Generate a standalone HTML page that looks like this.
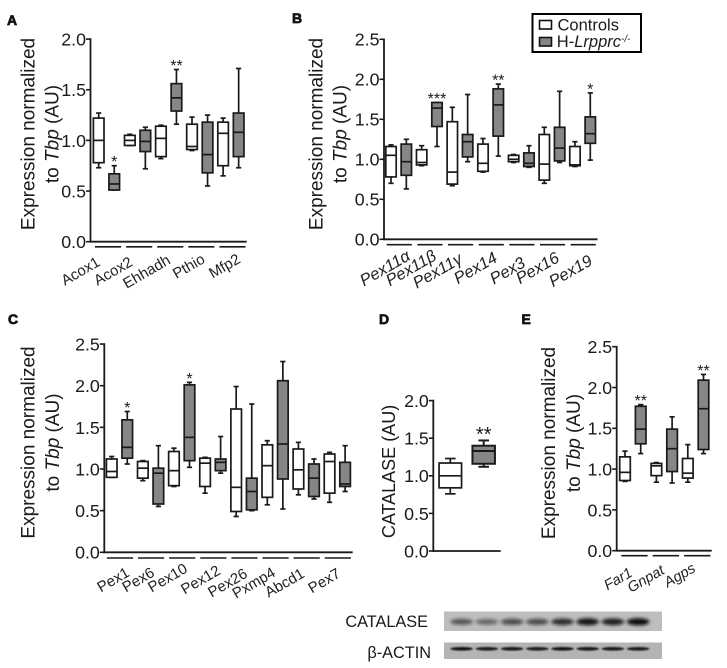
<!DOCTYPE html>
<html lang="en">
<head>
<meta charset="utf-8">
<title>Peroxisomal gene expression boxplots</title>
<style>
html,body{margin:0;padding:0;background:#fff;width:727px;height:668px;overflow:hidden}
svg{display:block;font-family:"Liberation Sans",sans-serif}
</style>
</head>
<body>
<svg id="fig" width="727" height="668" viewBox="0 0 727 668" xmlns="http://www.w3.org/2000/svg">
<defs>
<filter id="blur1" x="-30%" y="-100%" width="160%" height="300%"><feGaussianBlur stdDeviation="1.5"/></filter>
<filter id="blur2" x="-30%" y="-100%" width="160%" height="300%"><feGaussianBlur stdDeviation="0.7"/></filter>
</defs>
<g font-weight="bold" font-size="14" fill="#111" stroke="#111" stroke-width="0.7">
<text x="7" y="25">A</text>
<text x="292" y="23">B</text>
<text x="8" y="324">C</text>
<text x="379" y="324">D</text>
<text x="521.5" y="324">E</text>
</g>
<g fill="#1a1a1a" font-size="19" text-anchor="middle">
<g>
<text transform="translate(34.5 134) rotate(-90)">Expression normalized</text>
<text transform="translate(58.5 134) rotate(-90)">to <tspan font-style="italic">Tbp</tspan> (AU)</text>
</g>
<g>
<text transform="translate(322.5 134) rotate(-90)">Expression normalized</text>
<text transform="translate(346.5 134) rotate(-90)">to <tspan font-style="italic">Tbp</tspan> (AU)</text>
</g>
<g>
<text transform="translate(34.5 442.5) rotate(-90)">Expression normalized</text>
<text transform="translate(59 442.5) rotate(-90)">to <tspan font-style="italic">Tbp</tspan> (AU)</text>
</g>
<text font-size="18" transform="translate(395 471.5) rotate(-90)">CATALASE (AU)</text>
<g>
<text transform="translate(555 443) rotate(-90)">Expression normalized</text>
<text transform="translate(580 443) rotate(-90)">to <tspan font-style="italic">Tbp</tspan> (AU)</text>
</g>
</g>
<g>
<rect x="532.5" y="14" width="108.5" height="38" fill="#fff" stroke="#000" stroke-width="2"/>
<rect x="539.5" y="20.5" width="12" height="8.5" fill="#fff" stroke="#111" stroke-width="1.6"/>
<rect x="539.5" y="37.5" width="12" height="8.5" fill="#868686" stroke="#111" stroke-width="1.6"/>
<text x="557.5" y="30.5" font-size="16.5" fill="#1a1a1a">Controls</text>
<text x="553.5" y="47" font-size="16.5" fill="#1a1a1a">&#8201;H-<tspan font-style="italic">Lrpprc</tspan><tspan font-size="10" dy="-5" font-style="italic">-/-</tspan></text>
</g>
<g>
<text x="428" y="627" font-size="16.3" fill="#1a1a1a" text-anchor="end">CATALASE</text>
<text x="431" y="658" font-size="16.3" fill="#1a1a1a" text-anchor="end">&#946;-ACTIN</text>
<rect x="444" y="611.5" width="218" height="19.5" fill="#bdbdbd"/>
<rect x="444" y="642.5" width="218" height="16.5" fill="#b4b4b4"/>
<g id="bands"></g>
</g>
<g id="charts"></g>
</svg>
<script>
// Five-number summaries: [whisker low, Q1, median, Q3, whisker high]
const aGenes = ['Acox1','Acox2','Ehhadh','Pthio','Mfp2'];
const aControls = [[0.73,0.78,1.0,1.22,1.27],[0.95,0.95,1.0,1.05,1.06],[0.82,0.84,1.02,1.14,1.15],[0.9,0.91,0.94,1.16,1.23],[0.65,0.75,1.07,1.18,1.22]];
const aKnockout = [[0.51,0.51,0.57,0.67,0.75],[0.72,0.89,0.99,1.1,1.13],[1.16,1.29,1.42,1.56,1.7],[0.55,0.68,0.86,1.18,1.25],[0.73,0.84,1.08,1.27,1.71]];
const aStars = ['*','','**','',''];
const aTicks = ['0.0','0.5','1.0','1.5','2.0'];

const bGenes = ['Pex11\u03B1','Pex11\u03B2','Pex11\u03B3','Pex14','Pex3','Pex16','Pex19'];
const bControls = [[0.7,0.78,1.05,1.16,1.18],[0.92,0.93,0.96,1.12,1.17],[0.67,0.69,0.84,1.47,1.65],[0.84,0.85,0.95,1.19,1.26],[0.96,0.97,1.0,1.05,1.06],[0.7,0.74,0.94,1.31,1.4],[0.91,0.92,0.93,1.16,1.22]];
const bKnockout = [[0.63,0.8,0.97,1.19,1.25],[1.16,1.41,1.64,1.71,1.71],[0.97,1.03,1.22,1.31,1.81],[1.04,1.29,1.68,1.88,1.94],[0.9,0.91,0.95,1.08,1.17],[0.96,0.98,1.14,1.4,1.85],[0.99,1.2,1.32,1.53,1.83]];
const bStars = ['','***','','**','','','*'];
const bTicks = ['0.0','0.5','1.0','1.5','2.0','2.5'];

const cGenes = ['Pex1','Pex6','Pex10','Pex12','Pex26','Pxmp4','Abcd1','Pex7'];
const cControls = [[0.9,0.9,0.97,1.12,1.15],[0.86,0.89,1.01,1.09,1.1],[0.79,0.8,0.98,1.21,1.25],[0.71,0.79,1.07,1.13,1.14],[0.43,0.49,0.78,1.72,1.99],[0.57,0.66,1.04,1.29,1.34],[0.69,0.76,0.99,1.24,1.32],[0.6,0.71,1.09,1.18,1.2]];
const cKnockout = [[1.06,1.13,1.26,1.59,1.69],[0.55,0.58,0.95,1.01,1.28],[1.02,1.1,1.38,2.01,2.04],[0.95,0.98,1.08,1.12,1.39],[0.5,0.51,0.73,0.89,1.78],[0.52,0.88,1.3,2.06,2.29],[0.64,0.67,0.89,1.06,1.12],[0.73,0.79,0.82,1.08,1.28]];
const cStars = ['*','','*','','','','',''];
const cTicks = ['0.0','0.5','1.0','1.5','2.0','2.5'];

const dControls = [[0.76,0.84,1.0,1.17,1.23]];
const dKnockout = [[1.12,1.16,1.33,1.4,1.47]];
const dStars = ['**'];
const dTicks = ['0.0','0.5','1.0','1.5','2.0'];

const eGenes = ['Far1','Gnpat','Agps'];
const eControls = [[0.85,0.86,0.96,1.15,1.22],[0.84,0.92,1.04,1.07,1.08],[0.84,0.89,0.95,1.13,1.3]];
const eKnockout = [[1.19,1.31,1.49,1.77,1.79],[0.83,0.97,1.25,1.49,1.64],[1.19,1.24,1.74,2.09,2.16]];
const eStars = ['**','','**'];
const eTicks = ['0.0','0.5','1.0','1.5','2.0','2.5'];

const catalaseBands = [0.6,0.5,0.65,0.65,0.82,0.95,0.9,1.0];
const actinBands = [0.95,0.9,0.92,0.9,0.95,0.92,0.92,0.9];

const NS = 'http://www.w3.org/2000/svg';
const INK = '#1a1a1a';
const GREY = '#868686';

function add(parent, tag, name, attrs, text) {
  const el = document.createElementNS(NS, tag);
  
  
  for (const k in attrs) el.setAttribute(k, attrs[k]);
  if (text !== undefined) el.textContent = text;
  parent.appendChild(el);
  return el;
}

function drawBox(g, name, cx, w, stats, fill, sw, y, capW) {
  const box = add(g, 'g', name, {});
  const [lo, q1, med, q3, hi] = stats;
  const st = {stroke: INK, 'stroke-width': sw, fill: 'none'};
  add(box, 'line', name + '-whisker-low', Object.assign({x1: cx, x2: cx, y1: y(q1), y2: y(lo)}, st));
  add(box, 'line', name + '-whisker-high', Object.assign({x1: cx, x2: cx, y1: y(q3), y2: y(hi)}, st));
  add(box, 'line', name + '-cap-low', Object.assign({x1: cx - capW, x2: cx + capW, y1: y(lo), y2: y(lo)}, st));
  add(box, 'line', name + '-cap-high', Object.assign({x1: cx - capW, x2: cx + capW, y1: y(hi), y2: y(hi)}, st));
  add(box, 'rect', name + '-body', {x: cx - w / 2, y: y(q3), width: w, height: y(q1) - y(q3), fill: fill, stroke: INK, 'stroke-width': sw});
  add(box, 'line', name + '-median', Object.assign({x1: cx - w / 2, x2: cx + w / 2, y1: y(med), y2: y(med)}, st));
}

function drawPanel(p) {
  const root = document.getElementById('charts');
  const g = add(root, 'g', 'chart-' + p.id, {});
  const y = v => p.y0 - v * p.unit;
  const x = i => p.x0 + i * p.step;
  const sw = p.sw || 1.7;
  const maxV = parseFloat(p.ticks[p.ticks.length - 1]);

  p.ticks.forEach(t => {
    const v = parseFloat(t);
    add(g, 'line', p.id + '-y-tick-' + t, {x1: p.axisX - 4.5, x2: p.axisX, y1: y(v), y2: y(v), stroke: INK, 'stroke-width': 1.6});
    add(g, 'text', p.id + '-y-tick-label-' + t, {x: p.axisX - 4.5, y: y(v) + 6.4, 'font-size': 17.8, 'text-anchor': 'end', fill: INK}, t);
  });
  add(g, 'line', p.id + '-y-axis', {x1: p.axisX, x2: p.axisX, y1: y(maxV) - 0.8, y2: y(0) + 0.9, stroke: INK, 'stroke-width': 1.8});
  add(g, 'line', p.id + '-x-axis', {x1: p.axisX, x2: p.xEnd, y1: y(0), y2: y(0), stroke: INK, 'stroke-width': 1.8});

  p.controls.forEach((c, i) => {
    const cx0 = x(2 * i), cx1 = x(2 * i + 1);
    const label = p.genes ? p.genes[i] : 'sample';
    drawBox(g, p.id + '-box-' + label + '-controls', cx0, p.boxW, c, '#fff', sw, y, p.cap);
    drawBox(g, p.id + '-box-' + label + '-knockout', cx1, p.boxW, p.knockout[i], GREY, sw + (p.koExtra || 0), y, p.cap);
    if (p.stars[i]) {
      add(g, 'text', p.id + '-significance-' + label, {x: cx1, y: y(p.knockout[i][4]) + (p.starDy || 1.5), 'font-size': p.starSize || 16, 'text-anchor': 'middle', fill: INK}, p.stars[i]);
    }
    if (p.genes) {
      add(g, 'line', p.id + '-group-bar-' + label, {x1: cx0 - p.barL, x2: cx1 + p.barR, y1: p.barY, y2: p.barY, stroke: INK, 'stroke-width': 1.6});
      const ax = (cx0 + cx1) / 2 + p.labelShift[i][0];
      const ay = p.labelY + p.labelShift[i][1];
      add(g, 'text', p.id + '-x-label-' + label, {transform: 'translate(' + ax + ' ' + ay + ') rotate(-30)', 'font-size': p.labelSize, 'font-style': p.labelItalic ? 'italic' : 'normal', 'text-anchor': 'end', fill: '#222'}, label);
    }
  });
}

drawPanel({id: 'a', genes: aGenes, controls: aControls, knockout: aKnockout, stars: aStars, ticks: aTicks,
  axisX: 90.5, xEnd: 246.7, y0: 241.7, unit: 101.3, x0: 98.7, step: 15.55, boxW: 10.6, cap: 2.6,
  barL: 3.7, barR: 6.9, barY: 246.8, labelY: 265, labelSize: 15,
  labelShift: [[-5.5,0],[-4,0],[2.8,-2],[6.2,-3],[10.6,-3]]});
drawPanel({id: 'b', genes: bGenes, controls: bControls, knockout: bKnockout, stars: bStars, ticks: bTicks,
  axisX: 384, xEnd: 597.5, y0: 239.3, unit: 80, x0: 391, step: 15.33, boxW: 10.4, cap: 2.6,
  barL: 4.3, barR: 5.5, barY: 244.7, labelY: 260, labelSize: 16.5, labelItalic: true,
  labelShift: [[12.8,-1],[8.2,-1],[3.5,2],[7.8,1],[5.2,6],[8.5,1],[10.9,4]]});
drawPanel({id: 'c', genes: cGenes, controls: cControls, knockout: cKnockout, stars: cStars, ticks: cTicks,
  axisX: 104.3, xEnd: 352.7, y0: 552.3, unit: 83.3, x0: 111.7, step: 15.56, boxW: 10.6, cap: 2.6,
  barL: 4.8, barR: 5.8, barY: 558, labelY: 575, labelSize: 15,
  labelShift: [[11,0.5],[4.9,0.5],[6.8,-3.5],[8.6,-1.5],[4.5,1.5],[1.4,0.5],[-0.7,1.5],[4.2,1.5]]});
drawPanel({id: 'd', controls: dControls, knockout: dKnockout, stars: dStars, ticks: dTicks,
  axisX: 433.3, xEnd: 500.7, y0: 551, unit: 75.2, x0: 450.3, step: 33.4, boxW: 22.5, cap: 5.3, koExtra: 0.3,
  starSize: 20, starDy: 0.5});
drawPanel({id: 'e', genes: eGenes, controls: eControls, knockout: eKnockout, stars: eStars, ticks: eTicks,
  axisX: 616.7, xEnd: 711.7, y0: 550.7, unit: 81.6, x0: 625, step: 15.7, boxW: 10.6, cap: 2.6,
  barL: 3.7, barR: 6.9, barY: 555.7, labelY: 573, labelSize: 14.6, labelItalic: true,
  labelShift: [[0.6,2.5],[1.2,0],[0.8,-2]]});

const bandLayer = document.getElementById('bands');
function drawBands(values, kind, cy, maxH, filterId) {
  values.forEach((v, i) => {
    const cx = 461.7 + i * 25.2;
    add(bandLayer, 'ellipse', 'blot-' + kind + '-band-' + (i + 1), {cx: cx, cy: cy, rx: 11.3, ry: maxH * (0.55 + 0.45 * v), fill: '#111', opacity: v, filter: 'url(#' + filterId + ')'});
  });
}
drawBands(catalaseBands, 'catalase', 621.8, 3.6, 'blur1');
drawBands(actinBands, 'actin', 648.8, 1.9, 'blur2');
</script>
</body>
</html>
